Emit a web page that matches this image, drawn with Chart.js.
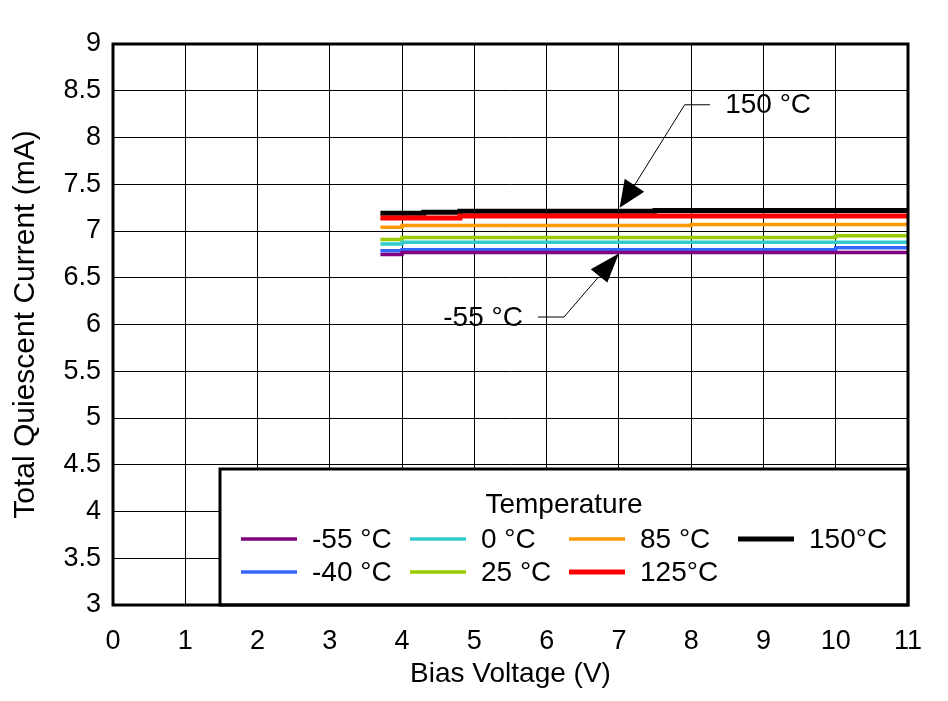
<!DOCTYPE html>
<html>
<head>
<meta charset="utf-8">
<script src="https://cdn.jsdelivr.net/npm/chart.js@4/dist/chart.umd.min.js"></script>
<style>
  html, body { margin: 0; padding: 0; background: #fff; }
  #wrap { width: 948px; height: 701px; }
</style>
</head>
<body>
<div id="wrap"><canvas id="grafico" width="948" height="701"></canvas></div>
<script>
// datos
const biasV = [3.7, 4.0, 4.3, 4.8, 5.0, 7.5, 8.0, 10.0, 11.0];

const temps = ['-55 °C', '-40 °C', '0 °C', '25 °C', '85 °C', '125°C', '150°C'];
const colores = ['#800080', '#3366FF', '#33CCCC', '#99CC00', '#FF9900', '#FF0000', '#000000'];
const grosor = [3.5, 3.5, 3.5, 3.5, 3.5, 5, 5];

const iN55 = [6.75, 6.77, 6.77, 6.77, 6.77, 6.77, 6.77, 6.77, 6.77];
const iN40 = [6.79, 6.80, 6.80, 6.80, 6.80, 6.80, 6.80, 6.82, 6.82];
const i0 = [6.86, 6.88, 6.88, 6.88, 6.88, 6.88, 6.88, 6.88, 6.88];
const i25 = [6.91, 6.93, 6.93, 6.93, 6.93, 6.93, 6.93, 6.95, 6.95];
const i85 = [7.04, 7.06, 7.06, 7.06, 7.06, 7.06, 7.07, 7.07, 7.07];
const i125 = [7.14, 7.14, 7.14, 7.16, 7.16, 7.16, 7.16, 7.16, 7.16];
const i150 = [7.19, 7.19, 7.20, 7.21, 7.21, 7.22, 7.22, 7.22, 7.22];

const series = [iN55, iN40, i0, i25, i85, i125, i150];

// etiquetas del eje y tal como aparecen
const yTicks = [3, 3.5, 4, 4.5, 5, 5.5, 6, 6.5, 7, 7.5, 8, 8.5, 9];
const yEtiquetas = ['3', '3.5', '4', '4.5', '5', '5.5', '6', '6.5', '7', '7.5', '8', '8.5', '9'];

// orden de la leyenda (columnas de arriba a abajo)
const ordenLeyenda = [0, 1, 2, 3, 4, 5, 6];

const FUENTE = '"Liberation Sans", Arial, sans-serif';

// flechas de anotacion, en unidades de los ejes
const anotaciones = [
  {
    texto: '150 °C', tx: 8.47, ty: 8.34,
    guia: [[8.26, 8.35], [7.91, 8.35], [7.2, 7.47]],
    punta: [[7.01, 7.25], [7.08, 7.56], [7.35, 7.42]]
  },
  {
    texto: '-55 °C', tx: 4.57, ty: 6.07,
    guia: [[5.88, 6.08], [6.24, 6.08], [6.72, 6.51]],
    punta: [[7.0, 6.76], [6.61, 6.59], [6.84, 6.45]]
  }
];

const datasets = series.map((vals, i) => ({
  label: temps[i],
  data: biasV.map((v, k) => ({ x: v, y: vals[k] })),
  borderColor: colores[i],
  backgroundColor: colores[i],
  borderWidth: grosor[i],
  pointRadius: 0,
  stepped: 'before',
  fill: false
}));

const pluginFigura = {
  id: 'figura',
  afterDatasetsDraw(chart) {
    const ctx = chart.ctx;
    const a = chart.chartArea;
    const sx = chart.scales.x, sy = chart.scales.y;

    // anotaciones
    ctx.save();
    anotaciones.forEach(an => {
      ctx.strokeStyle = '#000';
      ctx.lineWidth = 1;
      ctx.beginPath();
      an.guia.forEach((p, k) => {
        const px = sx.getPixelForValue(p[0]), py = sy.getPixelForValue(p[1]);
        if (k === 0) ctx.moveTo(px, py); else ctx.lineTo(px, py);
      });
      ctx.stroke();
      ctx.fillStyle = '#000';
      ctx.beginPath();
      an.punta.forEach((p, k) => {
        const px = sx.getPixelForValue(p[0]), py = sy.getPixelForValue(p[1]);
        if (k === 0) ctx.moveTo(px, py); else ctx.lineTo(px, py);
      });
      ctx.closePath();
      ctx.fill();
      ctx.font = '28px ' + FUENTE;
      ctx.textAlign = 'left';
      ctx.textBaseline = 'middle';
      ctx.fillText(an.texto, sx.getPixelForValue(an.tx), sy.getPixelForValue(an.ty));
    });

    // cuadro de leyenda
    const L = 220, T = 469, R = a.right, B = a.bottom;
    ctx.fillStyle = '#fff';
    ctx.fillRect(L, T, R - L, B - T);
    ctx.strokeStyle = '#000';
    ctx.lineWidth = 3;
    ctx.strokeRect(L, T, R - L, B - T);

    ctx.fillStyle = '#000';
    ctx.font = '28px ' + FUENTE;
    ctx.textAlign = 'center';
    ctx.textBaseline = 'middle';
    ctx.fillText('Temperature', 564, 505);

    const colX = [241, 410, 569, 738];
    const filaY = [539, 572];
    ctx.textAlign = 'left';
    ordenLeyenda.forEach((idx, n) => {
      const c = Math.floor(n / 2), f = n % 2;
      const x = colX[c], y = filaY[f];
      ctx.strokeStyle = colores[idx];
      ctx.lineWidth = idx >= 5 ? 5 : 3.5;
      ctx.beginPath();
      ctx.moveTo(x, y);
      ctx.lineTo(x + 56, y);
      ctx.stroke();
      ctx.fillStyle = '#000';
      ctx.fillText(temps[idx], x + 71, y + 1);
    });

    // marco del area de grafico
    ctx.lineWidth = 3;
    ctx.strokeStyle = '#000';
    ctx.strokeRect(a.left, a.top, a.right - a.left, a.bottom - a.top);
    ctx.restore();
  }
};

const ctx = document.getElementById('grafico').getContext('2d');
const grafico = new Chart(ctx, {
  type: 'line',
  data: { datasets: datasets },
  options: {
    responsive: false,
    animation: false,
    layout: { padding: { left: 0, top: 44, right: 40, bottom: 0 } },
    plugins: {
      legend: { display: false },
      tooltip: { enabled: false }
    },
    scales: {
      x: {
        type: 'linear',
        min: 0,
        max: 11,
        ticks: {
          stepSize: 1,
          color: '#000',
          padding: 20,
          font: { family: FUENTE, size: 27 }
        },
        grid: { color: '#000', lineWidth: 1, drawTicks: false },
        border: { display: false },
        title: {
          display: true,
          text: 'Bias Voltage (V)',
          color: '#000',
          font: { family: FUENTE, size: 28 },
          padding: { top: 0, bottom: 10 }
        },
        afterFit: function (scale) { scale.height = 96; }
      },
      y: {
        type: 'linear',
        min: 3,
        max: 9,
        afterBuildTicks: function (scale) {
          scale.ticks = yTicks.map(v => ({ value: v }));
        },
        ticks: {
          color: '#000',
          padding: 12,
          font: { family: FUENTE, size: 27 },
          callback: function (value) {
            const k = yTicks.indexOf(value);
            return k >= 0 ? yEtiquetas[k] : '';
          }
        },
        grid: { color: '#000', lineWidth: 1, drawTicks: false },
        border: { display: false },
        title: {
          display: true,
          text: 'Total Quiescent Current (mA)',
          color: '#000',
          font: { family: FUENTE, size: 30 },
          padding: { top: 8, bottom: 0 }
        },
        afterFit: function (scale) { scale.width = 113; }
      }
    }
  },
  plugins: [pluginFigura]
});
</script>
</body>
</html>
